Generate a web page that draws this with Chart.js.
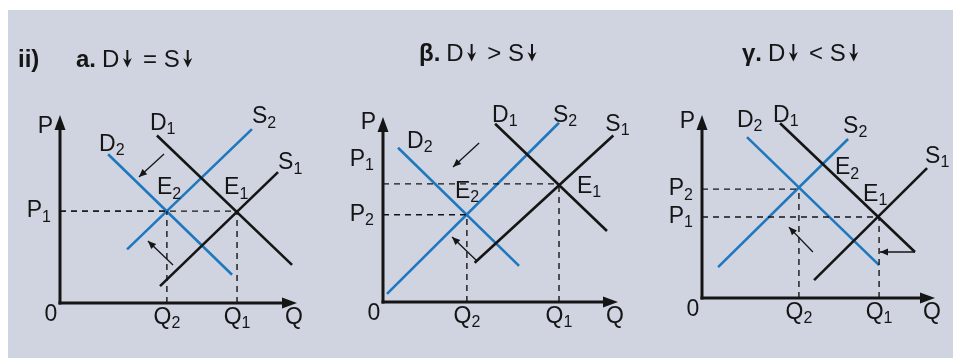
<!DOCTYPE html>
<html><head><meta charset="utf-8">
<script src="https://cdn.jsdelivr.net/npm/chart.js@4"></script>
<style>
html,body{margin:0;padding:0;background:#fff;}
#wrap{position:relative;width:953px;height:358px;overflow:hidden;background:#fff}
#bg{position:absolute;left:8px;top:10px;right:0;bottom:0;background:#cfd4e0}
canvas{position:absolute;left:0;top:0}
</style></head><body>
<div id="wrap"><div id="bg"></div>
<canvas id="c0" width="953" height="358"></canvas>
<canvas id="c1" width="953" height="358"></canvas>
<canvas id="c2" width="953" height="358"></canvas>
</div>
<script>
// ---------- DATA ----------
const sectionLabel = 'ii)';
const titlePrefixes = ['a.', 'β.', 'γ.'];
const titleRelations = ['D↓ = S↓', 'D↓ > S↓', 'D↓ < S↓'];
const curveNames = ['D1', 'S1', 'D2', 'S2'];

// panel a : D↓ = S↓   (Q, P) endpoints in axis units
const aD1 = [[4.09, 7.13], [9.79, 1.62]];
const aS1 = [[4.22, 0.72], [9.20, 5.57]];
const aD2 = [[2.03, 6.33], [7.26, 1.20]];
const aS2 = [[2.83, 2.28], [8.10, 7.40]];
const aE1 = [7.47, 3.91];
const aE2 = [4.51, 3.91];
const aShiftD = [[4.39, 6.34], [3.33, 5.36]];
const aShiftS = [[4.77, 1.62], [3.71, 2.64]];

// panel b : D↓ > S↓
const bD1 = [[4.77, 7.71], [9.53, 3.07]];
const bS1 = [[3.90, 1.70], [9.80, 7.20]];
const bD2 = [[0.64, 6.67], [5.79, 1.56]];
const bS2 = [[0.17, 0.35], [7.49, 7.75]];
const bE1 = [7.49, 5.11];
const bE2 = [3.57, 3.77];
const bShiftD = [[4.09, 6.88], [2.98, 5.84]];
const bShiftS = [[4.00, 1.77], [2.94, 2.81]];

// panel c : D↓ < S↓
const cD1 = [[3.35, 7.64], [9.14, 2.01]];
const cS1 = [[4.81, 0.78], [9.66, 5.68]];
const cD2 = [[1.93, 7.03], [7.60, 1.44]];
const cS2 = [[0.69, 1.35], [6.27, 6.95]];
const cE1 = [7.60, 3.54];
const cE2 = [4.16, 4.76];
const cShiftD = [[9.14, 2.01], [7.64, 2.01]];
const cShiftS = [[4.76, 2.01], [3.73, 3.10]];

const axisNames = ['P', 'Q', '0'];
const priceNames = ['P1', 'P2'];     // at E1, E2 price
const quantityNames = ['Q1', 'Q2'];  // at E1, E2 quantity
const eqNames = ['E1', 'E2'];

// ---------- LAYOUT / STYLE ----------
const BLACK = '#151515';
const BLUE = '#1f78be';
const FONT = '"Liberation Sans", Arial, sans-serif';
const MAIN = 23, SUB = 16, TITLE = 24;

const panels = [
  { curves: [aD1, aS1, aD2, aS2], eq: [aE1, aE2], shifts: [aShiftD, aShiftS], priceLabels: ['P1'],
    pad: { left: 60, right: 656, top: 115, bottom: 55 }, xMax: 10, yMax: 8,
    curveOff: [[0, -7, -12], [1, 0, -9], [0, -9, -10], [1, 0, -12]], // [anchor idx, dx, dy]
    eqOff: [[-13, -23], [-10, -23]], priceOff: [[0]], pOff: 12,
    title: { x: 76, y: 58 } },
  { curves: [bD1, bS1, bD2, bS2], eq: [bE1, bE2], shifts: [bShiftD, bShiftS], priceLabels: ['P1', 'P2'],
    pad: { left: 383, right: 335, top: 117, bottom: 56 }, xMax: 10, yMax: 8,
    curveOff: [[0, -3, -8], [1, -8, -11], [0, 9, -6], [1, -6, -7]],
    eqOff: [[18, 3], [-12, -23]], priceOff: [[-24], [0]], pOff: 6,
    title: { x: 419, y: 52 } },
  { curves: [cD1, cS1, cD2, cS2], eq: [cE1, cE2], shifts: [cShiftD, cShiftS], priceLabels: ['P1', 'P2'],
    pad: { left: 702, right: 18, top: 115, bottom: 60 }, xMax: 10, yMax: 8,
    curveOff: [[0, -7, -8], [1, -2, -11], [0, -10, -17], [1, -5, -12]],
    eqOff: [[-16, -22], [36, -21]], priceOff: [[0], [0]], pOff: 7,
    title: { x: 742, y: 52 } }
];

function pts(arr) { return arr.map(p => ({ x: p[0], y: p[1] })); }

function subText(ctx, label, x, y, align) {
  const main = label[0], sub = label.slice(1);
  ctx.font = MAIN + 'px ' + FONT;
  const wm = ctx.measureText(main).width;
  ctx.font = SUB + 'px ' + FONT;
  const ws = sub ? ctx.measureText(sub).width : 0;
  const w = wm + ws;
  let left = x;
  if (align === 'right') left = x - w;
  if (align === 'center') left = x - w / 2;
  ctx.fillStyle = BLACK;
  ctx.textAlign = 'left';
  ctx.textBaseline = 'middle';
  ctx.font = MAIN + 'px ' + FONT;
  ctx.fillText(main, left, y);
  if (sub) { ctx.font = SUB + 'px ' + FONT; ctx.fillText(sub, left + wm, y + 6); }
}

function arrowHead(ctx, x0, y0, x1, y1, len, half) {
  const a = Math.atan2(y1 - y0, x1 - x0);
  ctx.beginPath();
  ctx.moveTo(x1, y1);
  ctx.lineTo(x1 - len * Math.cos(a) + half * Math.sin(a), y1 - len * Math.sin(a) - half * Math.cos(a));
  ctx.lineTo(x1 - len * Math.cos(a) - half * Math.sin(a), y1 - len * Math.sin(a) + half * Math.cos(a));
  ctx.closePath();
  ctx.fill();
}

// draws the title; "↓" is drawn as a tall arrow glyph
function drawTitle(ctx, prefix, rel, x, y) {
  ctx.fillStyle = BLACK; ctx.strokeStyle = BLACK;
  ctx.textAlign = 'left'; ctx.textBaseline = 'alphabetic';
  const base = y + 9;
  ctx.font = 'bold ' + TITLE + 'px ' + FONT;
  ctx.fillText(prefix, x, base);
  let cx = x + ctx.measureText(prefix).width + 6;
  ctx.font = TITLE + 'px ' + FONT;
  for (const ch of rel) {
    if (ch === '↓') {
      const ax = cx + 8;
      ctx.lineWidth = 2;
      ctx.beginPath(); ctx.moveTo(ax, base - 17); ctx.lineTo(ax, base - 5); ctx.stroke();
      ctx.beginPath();
      ctx.moveTo(ax - 4.5, base - 9); ctx.lineTo(ax, base + 0.5); ctx.lineTo(ax + 4.5, base - 9);
      ctx.lineTo(ax, base - 6); ctx.closePath(); ctx.fill();
      cx += 17;
    } else {
      ctx.fillText(ch, cx, base);
      cx += ctx.measureText(ch).width;
    }
  }
}

panels.forEach((pn, i) => {
  const datasets = [];
  // dashed guides from equilibria
  pn.eq.forEach(e => {
    datasets.push({ data: pts([[0, e[1]], e]), borderColor: BLACK, borderWidth: 1.4, borderDash: [6, 5] });
    datasets.push({ data: pts([[e[0], 0], e]), borderColor: BLACK, borderWidth: 1.4, borderDash: [6, 5] });
  });
  // curves
  pn.curves.forEach((c, k) => {
    datasets.push({ data: pts(c), borderColor: k < 2 ? BLACK : BLUE, borderWidth: 2.6 });
  });
  // shift arrows
  pn.shifts.forEach(s => {
    datasets.push({ data: pts(s), borderColor: BLACK, borderWidth: 1.3 });
  });
  datasets.forEach(d => { d.showLine = true; d.pointRadius = 0; d.clip = false; d.fill = false; d.tension = 0; });

  const deco = {
    id: 'deco' + i,
    afterDatasetsDraw(chart) {
      const ctx = chart.ctx, xs = chart.scales.x, ys = chart.scales.y;
      const X = v => xs.getPixelForValue(v), Y = v => ys.getPixelForValue(v);
      const ox = X(0), oy = Y(0), tx = X(pn.xMax), ty = Y(pn.yMax);
      ctx.save();
      // axes
      ctx.strokeStyle = BLACK; ctx.fillStyle = BLACK; ctx.lineWidth = 3; ctx.lineCap = 'butt';
      ctx.beginPath(); ctx.moveTo(ox, oy + 1.5); ctx.lineTo(ox, ty + 8); ctx.stroke();
      ctx.beginPath(); ctx.moveTo(ox - 1.5, oy); ctx.lineTo(tx - 8, oy); ctx.stroke();
      arrowHead(ctx, ox, oy, ox, ty, 15, 5.5);
      arrowHead(ctx, ox, oy, tx, oy, 15, 5.5);
      // shift arrowheads
      pn.shifts.forEach(s => {
        arrowHead(ctx, X(s[0][0]), Y(s[0][1]), X(s[1][0]), Y(s[1][1]), 8, 3.5);
      });
      // curve labels
      pn.curves.forEach((c, k) => {
        const o = pn.curveOff[k], p = c[o[0]];
        subText(ctx, curveNames[k], X(p[0]) + o[1], Y(p[1]) + o[2], 'left');
      });
      // equilibrium labels
      pn.eq.forEach((e, k) => {
        subText(ctx, eqNames[k], X(e[0]) + pn.eqOff[k][0], Y(e[1]) + pn.eqOff[k][1], 'left');
      });
      // price labels
      pn.priceLabels.forEach((nm, k) => {
        subText(ctx, nm, ox - 9, Y(pn.eq[k][1]) + pn.priceOff[k][0], 'right');
      });
      // quantity labels
      pn.eq.forEach((e, k) => {
        subText(ctx, quantityNames[k], X(e[0]), oy + 15, 'center');
      });
      // axis names
      subText(ctx, axisNames[0], ox - 7, ty + pn.pOff, 'right');
      subText(ctx, axisNames[1], tx - 3, oy + 15, 'center');
      subText(ctx, axisNames[2], ox - 9, oy + 12, 'center');
      // title
      if (i === 0) {
        ctx.fillStyle = BLACK; ctx.textAlign = 'left'; ctx.textBaseline = 'alphabetic';
        ctx.font = 'bold ' + TITLE + 'px ' + FONT;
        ctx.fillText(sectionLabel, 18, pn.title.y + 9);
      }
      drawTitle(ctx, titlePrefixes[i], titleRelations[i], pn.title.x, pn.title.y);
      ctx.restore();
    }
  };

  new Chart(document.getElementById('c' + i), {
    type: 'scatter',
    data: { datasets },
    options: {
      responsive: false, animation: false, devicePixelRatio: 1,
      layout: { padding: pn.pad },
      plugins: { legend: { display: false }, tooltip: { enabled: false } },
      scales: {
        x: { type: 'linear', min: 0, max: pn.xMax, display: false },
        y: { type: 'linear', min: 0, max: pn.yMax, display: false }
      }
    },
    plugins: [deco]
  });
});
</script>
</body></html>
